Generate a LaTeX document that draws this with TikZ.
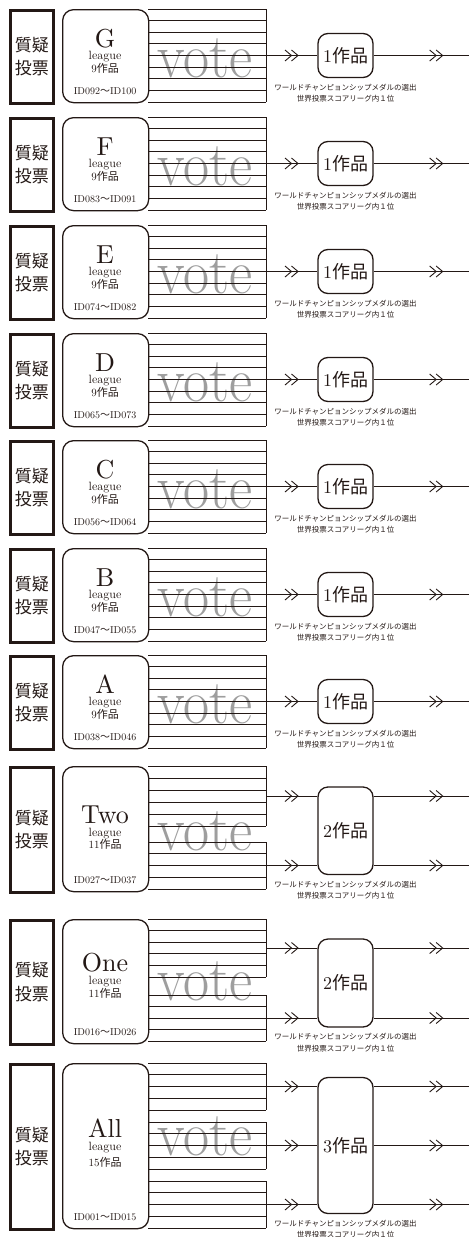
\documentclass[tikz,border=0pt]{standalone}
\usepackage{fontspec}
\setmainfont{lmroman10-regular.otf}
\newfontfamily\lmsev{lmroman17-regular.otf}
\newfontfamily\cjk{Noto Sans CJK JP}
\usetikzlibrary{decorations.markings}
\definecolor{ink}{HTML}{231815}
\newcommand\dchev{\draw[ink,line width=0.9pt,solid] (-13pt,-5.5pt)--(-6.5pt,0pt)--(-13pt,5.5pt) (-6.5pt,-5.5pt)--(0pt,0pt)--(-6.5pt,5.5pt);}
\newcommand\votegroup[3]{%
  \pgfmathsetmacro\vstep{(#2-#1)/(#3-1)}%
  \foreach \k in {1,...,#3}{\draw[voteline] (148,{#1+(\k-1)*\vstep}) -- (266,{#1+(\k-1)*\vstep});}%
  \draw[voteline] (266,#1) -- (266,#2);}
\newcommand\captxt{ワールドチャンピョンシップメダルの選出\\世界投票スコアリーグ内１位}
\begin{document}
\begin{tikzpicture}[x=1pt,y=-1pt,
  voteline/.style={draw=ink,line width=0.9pt},
  conn/.style={draw=ink,line width=1pt},
  inchev/.style={postaction={decorate,decoration={markings,mark=at position 32pt with {\dchev}}}},
  outchev/.style={postaction={decorate,decoration={markings,mark=at position 69pt with {\dchev}}}},
  qbox/.style={draw=ink,line width=2.6pt,minimum width=43pt,anchor=north west,inner sep=0pt,align=center,text=ink,font=\cjk\fontsize{17}{23.5}\selectfont},
  lgbox/.style={draw=ink,line width=1.3pt,rounded corners=11pt,minimum width=86pt,anchor=north west,inner sep=0pt},
  outbox/.style={draw=ink,line width=1.3pt,rounded corners=10pt,minimum width=55pt,inner sep=0pt,text=ink,font=\fontsize{18}{18}\selectfont},
  lettr/.style={anchor=base,inner sep=0pt,text=ink,font=\fontsize{26}{26}\selectfont},
  lgsmall/.style={anchor=base,inner sep=0pt,text=ink,font=\fontsize{12}{12}\selectfont},
  cnt/.style={anchor=base,inner sep=0pt,text=ink,font=\fontsize{11}{11}\selectfont},
  idtxt/.style={anchor=base,inner sep=0pt,text=ink,font=\fontsize{10}{10}\selectfont},
  votetxt/.style={anchor=base,inner sep=0pt,text=black!38,font=\lmsev\fontsize{63}{63}\selectfont},
  capt/.style={anchor=north,inner sep=0pt,align=center,text=ink,font=\cjk\fontsize{7.5}{11.5}\selectfont}
]
\useasboundingbox (0,0) rectangle (469,1237);

% ---- nine-work leagues ----
\foreach \lname/\tp/\ia/\ib in {G/9/092/100,F/117/083/091,E/225/074/082,D/333/065/073,C/440/056/064,B/548/047/055,A/655/038/046}{
  \pgfmathsetmacro\Bot{\tp+93}
  \pgfmathsetmacro\Mid{\tp+46.5}
  \node[votetxt] (v-\lname) at (205,{\tp+68}) {\scalebox{0.9}[1]{vote}};
  \node[qbox,minimum height=93pt] (q-\lname) at (9,\tp) {質疑\\投票};
  \node[lgbox,minimum height=93pt] (lg-\lname) at (62,\tp) {};
  \node[lettr] (lt-\lname) at (105,{\tp+38}) {\lname};
  \node[lgsmall] (lw-\lname) at (105,{\tp+50.5}) {league};
  \node[cnt] (n-\lname) at (105,{\tp+63}) {9{\cjk 作品}};
  \node[idtxt] (id-\lname) at (105,{\Bot-8}) {ID\ia{\cjk 〜}ID\ib};
  \votegroup{\tp}{\Bot}{9}
  \coordinate (bar-\lname) at (266,\Mid);
  \node[outbox,minimum height=44pt] (o-\lname) at (345.5,\Mid) {1{\cjk 作品}};
  \coordinate (end-\lname) at (469,\Mid);
  \draw[conn,inchev] (bar-\lname) -- (o-\lname);
  \draw[conn,outchev] (o-\lname) -- (end-\lname);
  \node[capt] (c-\lname) at ([yshift=-5.5pt]o-\lname.south) {\captxt};
}

% ---- Two league ----
\node[votetxt] (v-two) at (205,850) {\scalebox{0.9}[1]{vote}};
\node[qbox,minimum height=125pt] (q-two) at (9,766) {質疑\\投票};
\node[lgbox,minimum height=125pt] (lg-two) at (62,766) {};
\node[lettr] (lt-two) at (105,823) {Two};
\node[lgsmall] (lw-two) at (105,836.5) {league};
\node[cnt] (n-two) at (105,848.5) {11{\cjk 作品}};
\node[idtxt] (id-two) at (105,883) {ID027{\cjk 〜}ID037};
\votegroup{766}{826}{6}
\votegroup{842}{889}{5}
\coordinate (bar-two-a) at (266,796);
\coordinate (bar-two-b) at (266,865.5);
\node[outbox,minimum height=87.5pt] (o-two) at (345.5,830.75) {2{\cjk 作品}};
\coordinate (end-two-a) at (469,796);
\coordinate (end-two-b) at (469,865.5);
\draw[conn,inchev] (bar-two-a) -- (bar-two-a -| o-two.west);
\draw[conn,inchev] (bar-two-b) -- (bar-two-b -| o-two.west);
\draw[conn,outchev] (bar-two-a -| o-two.east) -- (end-two-a);
\draw[conn,outchev] (bar-two-b -| o-two.east) -- (end-two-b);
\node[capt] (c-two) at ([yshift=-5.5pt]o-two.south) {\captxt};

% ---- One league ----
\node[votetxt] (v-one) at (205,1000) {\scalebox{0.9}[1]{vote}};
\node[qbox,minimum height=124pt] (q-one) at (9,919) {質疑\\投票};
\node[lgbox,minimum height=124pt] (lg-one) at (62,919) {};
\node[lettr] (lt-one) at (105,971) {One};
\node[lgsmall] (lw-one) at (105,984.5) {league};
\node[cnt] (n-one) at (105,997.5) {11{\cjk 作品}};
\node[idtxt] (id-one) at (105,1035) {ID016{\cjk 〜}ID026};
\votegroup{919}{977}{6}
\votegroup{995}{1041}{5}
\coordinate (bar-one-a) at (266,948);
\coordinate (bar-one-b) at (266,1018);
\node[outbox,minimum height=88pt] (o-one) at (345.5,983) {2{\cjk 作品}};
\coordinate (end-one-a) at (469,948);
\coordinate (end-one-b) at (469,1018);
\draw[conn,inchev] (bar-one-a) -- (bar-one-a -| o-one.west);
\draw[conn,inchev] (bar-one-b) -- (bar-one-b -| o-one.west);
\draw[conn,outchev] (bar-one-a -| o-one.east) -- (end-one-a);
\draw[conn,outchev] (bar-one-b -| o-one.east) -- (end-one-b);
\node[capt] (c-one) at ([yshift=-5.5pt]o-one.south) {\captxt};

% ---- All league ----
\node[votetxt] (v-all) at (205,1155) {\scalebox{0.9}[1]{vote}};
\node[qbox,minimum height=165pt] (q-all) at (9,1063) {質疑\\投票};
\node[lgbox,minimum height=165pt] (lg-all) at (62,1063) {};
\node[lettr] (lt-all) at (105,1137) {All};
\node[lgsmall] (lw-all) at (105,1150.5) {league};
\node[cnt] (n-all) at (105,1166) {15{\cjk 作品}};
\node[idtxt] (id-all) at (105,1220) {ID001{\cjk 〜}ID015};
\votegroup{1063}{1110}{5}
\votegroup{1122}{1169}{5}
\votegroup{1181}{1228}{5}
\coordinate (bar-all-a) at (266,1086.5);
\coordinate (bar-all-b) at (266,1145.5);
\coordinate (bar-all-c) at (266,1204.5);
\node[outbox,minimum height=136pt] (o-all) at (345.5,1145.5) {3{\cjk 作品}};
\coordinate (end-all-a) at (469,1086.5);
\coordinate (end-all-b) at (469,1145.5);
\coordinate (end-all-c) at (469,1204.5);
\foreach \s in {a,b,c}{
  \draw[conn,inchev] (bar-all-\s) -- (bar-all-\s -| o-all.west);
  \draw[conn,outchev] (bar-all-\s -| o-all.east) -- (end-all-\s);
}
\node[capt] (c-all) at ([yshift=-5.5pt]o-all.south) {\captxt};
\end{tikzpicture}
\end{document}
